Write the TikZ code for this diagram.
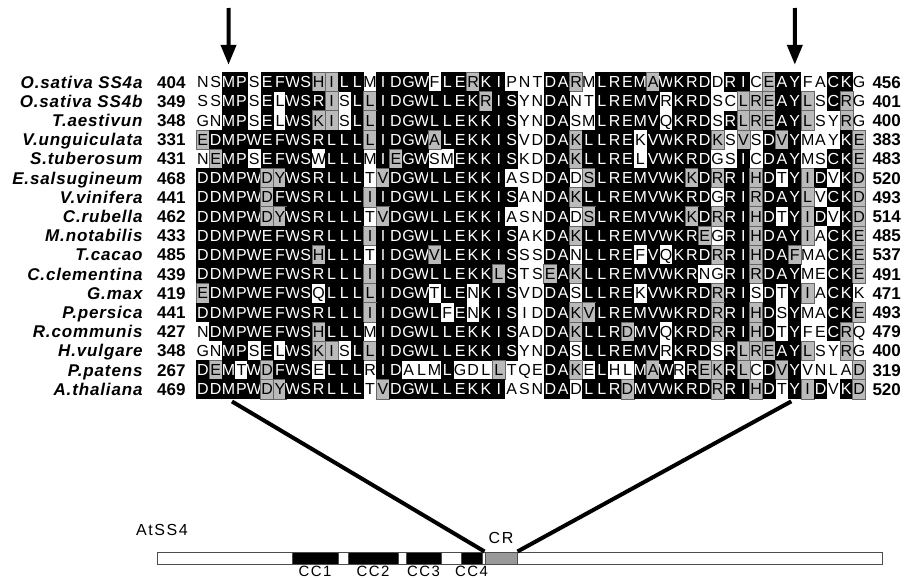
\documentclass[tikz,border=0pt]{standalone}
\usepackage{fontspec}
\setmainfont{Liberation Sans}
\usetikzlibrary{arrows.meta,positioning}

\newfontfamily\lblfont[LetterSpace=5]{Liberation Sans}
\newfontfamily\tagfont[LetterSpace=10]{Liberation Sans}
\newcommand{\seqfont}{\fontsize{12}{12}\selectfont}

% one alignment row: row number, residues, shades (k black, g grey, w white)
\newcommand{\alnrow}[3]{%
  \def\alnr{#1}\def\alnc{0}%
  \alncell#2\relax#3\relax}
\def\alncell#1#2\relax#3#4\relax{%
  \pgfmathtruncatemacro{\alnc}{\alnc+1}%
  \node [res#3] (c-\alnr-\alnc) at ({202.8+(\alnc-1)*12.87},{82+(\alnr-1)*19.2}) {#1};%
  \ifx\relax#2\relax\else\alncell#2\relax#4\relax\fi}

\tikzset{every picture/.style={line width=0.75pt}}
\tikzset{
  res/.style={inner sep=0pt, minimum width=9.8pt, minimum height=14.6pt, text height=8.6pt, text depth=0pt, font=\seqfont},
  resk/.style={res, fill=black, text=white},
  resg/.style={res, fill=black!27, draw=black!60, line width=0.4pt, text=black},
  resw/.style={res, text=black},
  spname/.style={inner sep=0pt, font=\lblfont\bfseries\itshape\fontsize{12.75}{14}\selectfont},
  spnum/.style={inner sep=0pt, font=\bfseries\fontsize{12.75}{14}\selectfont},
  selarrow/.style={line width=3pt, -{Triangle[width=11.25pt,length=15pt]}, shorten >=5.25pt},
  zoomline/.style={line width=3pt, shorten <=3pt},
  barbox/.style={draw=black!70, line width=0.75pt, inner sep=0pt, minimum height=9pt},
  tag/.style={inner sep=0pt, font=\tagfont\fontsize{12}{13}\selectfont},
  cctag/.style={inner sep=0pt, text height=7.9pt, text depth=0pt, font=\tagfont\fontsize{11.2}{12}\selectfont}
}

\begin{document}
\begin{tikzpicture}[x=0.75pt,y=0.75pt,yscale=-1,xscale=1]
\useasboundingbox (0,0) rectangle (908,578);
\clip (0,0) rectangle (908,578);

% Alignment
\alnrow{1}{NSMPSEFWSHILLMIDGWFLERKIPNTDARMLREMAWKRDDRICEAYFACKG}{wwkkwkkkkggkkwkkkkwkkgkkwwwkkgwkkkkgkkkkwkkwgkkwwkkw}
\alnrow{2}{SSMPSELWSRISLLIDGWLLEKRISYNDANTLREMVRKRDSCLREAYLSCRG}{wwkkwkwkkkgwkgkkkkkkkkgkkwwkkwwkkkkkwkkkwwgggkkgwkgw}
\alnrow{3}{GNMPSELWSKISLLIDGWLLEKKISYNDASMLREMVQKRDSRLREAYLSYRG}{wwkkwkwkkggwkgkkkkkkkkkkkwwkkwwkkkkkwkkkwkgggkkgwwgw}
\alnrow{4}{EDMPWEFWSRLLLLIDGWALEKKISVDDAKLLREKVWKRDKSVSDVYMAYKE}{gkkkkkkkkkkkkgkkkkgkkkkkkwwkkgkkkkwkkkkkgwgwkgkwwwkg}
\alnrow{5}{NEMPSEFWSWLLLMIEGWSMEKKISKDDAKLLRELVWKRDGSICDAYMSCKE}{wgkkwkkkkwkkkwkgkkwwkkkkkwwkkgkkkkwkkkkkwwkwkkkwwkkg}
\alnrow{6}{DDMPWDYWSRLLLTVDGWLLEKKIASDDADSLREMVWKKDRRIHDTYIDVKD}{kkkkkggkkkkkkwgkkkkkkkkkwwwkkwgkkkkkkkgkgkkgkwkgkwkg}
\alnrow{7}{DDMPWDFWSRLLLIIDGWLLEKKISANDAKLLREMVWKRDGRIRDAYLVCKD}{kkkkkgkkkkkkkgkkkkkkkkkkkwwkkgkkkkkkkkkkwkkgkkkgwkkg}
\alnrow{8}{DDMPWDYWSRLLLTVDGWLLEKKIASNDADSLREMVWKKDRRIHDTYIDVKD}{kkkkkggkkkkkkwgkkkkkkkkkwwwkkwgkkkkkkkgkgkkgkwkgkwkg}
\alnrow{9}{DDMPWEFWSRLLLIIDGWLLEKKISAKDAKLLREMVWKREGRIHDAYIACKE}{kkkkkkkkkkkkkgkkkkkkkkkkkwwkkgkkkkkkkkkgwkkgkkkgwkkg}
\alnrow{10}{DDMPWEFWSHLLLTIDGWVLEKKISSSDANLLREFVQKRDRRIHDAFMACKE}{kkkkkkkkkgkkkwkkkkgkkkkkkwwkkwkkkkwkwkkkgkkgkkgwwkkg}
\alnrow{11}{DDMPWEFWSRLLLIIDGWLLEKKLSTSEAKLLREMVWKRNGRIRDAYMECKE}{kkkkkkkkkkkkkgkkkkkkkkkgkwwgkgkkkkkkkkkwwkkgkkkwwkkg}
\alnrow{12}{EDMPWEFWSQLLLLIDGWTLENKISVDDASLLREKVWKRDRRISDTYIACKK}{gkkkkkkkkwkkkgkkkkwkkwkkkwwkkwkkkkwkkkkkgkkwkwkgwkkw}
\alnrow{13}{DDMPWEFWSRLLLIIDGWLFENKISIDDAKVLREMVWKRDRRIHDSYMACKE}{kkkkkkkkkkkkkgkkkkkwkwkkkwwkkggkkkkkkkkkgkkgkwkwwkkg}
\alnrow{14}{NDMPWEFWSHLLLMIDGWLLEKKISADDAKLLRDMVQKRDRRIHDTYFECRQ}{wkkkkkkkkgkkkwkkkkkkkkkkkwwkkgkkkgkkwkkkgkkgkwkwwkgw}
\alnrow{15}{GNMPSELWSKISLLIDGWLLEKKISYNDASLLREMVRKRDSRLREAYLSYRG}{wwkkwkwkkggwkgkkkkkkkkkkkwwkkwkkkkkkwkkkwkgggkkgwwgw}
\alnrow{16}{DEMTWDFWSELLLRIDALMLGDLLTQEDAKELHLMAWRREKRLCDVYVNLAD}{kgkwkgkkkwkkkwkkwwwkwwwgwwwkkgwkwwkgkwkggkgwkgkwwwwg}
\alnrow{17}{DDMPWDYWSRLLLTVDGWLLEKKIASNDADLLRDMVWKRDRRIHDTYIDVKD}{kkkkkggkkkkkkwgkkkkkkkkkwwwkkwkkkgkkkkkkgkkgkwkgkwkg}

% Species names and residue numbers
\foreach \nm/\st/\en [count=\r] in {O.sativa SS4a/404/456, O.sativa SS4b/349/401, T.aestivun/348/400, V.unguiculata/331/383, S.tuberosum/431/483, E.salsugineum/468/520, V.vinifera/441/493, C.rubella/462/514, M.notabilis/433/485, T.cacao/485/537, C.clementina/439/491, G.max/419/471, P.persica/441/493, R.communis/427/479, H.vulgare/348/400, P.patens/267/319, A.thaliana/469/520}{
  \node [spname, anchor=base east] (name-\r) at (143,{82+(\r-1)*19.2+6}) {\nm};
  \node [spnum, anchor=base east] (start-\r) at (186,{82+(\r-1)*19.2+6}) {\st};
  \node [spnum, anchor=base west] (end-\r) at (872,{82+(\r-1)*19.2+6}) {\en};
}

% Arrows over the two residues
\coordinate (topL) at (228.5,8);
\coordinate (topR) at (794.8,8);
\draw [selarrow] (topL) -- (c-1-3.north);
\draw [selarrow] (topR) -- (c-1-47.north);

%Shape: AtSS4 protein bar
\node [barbox, minimum width=543.75pt] (bar) at (519.5,558) {};
\node [barbox, fill=black, minimum width=34.5pt] (cc1) at (315,558) {};
\node [barbox, fill=black, minimum width=37.5pt] (cc2) at (373,558) {};
\node [barbox, fill=black, minimum width=26.25pt] (cc3) at (423.5,558) {};
\node [barbox, fill=black, minimum width=15.75pt] (cc4) at (471.5,558) {};
\node [barbox, fill=black!40, minimum width=24pt] (cr) at (501,558) {};

% Text Node
\node [tag] (atss4) at (162,530) {AtSS4};
\node [tag, above=5.5pt of cr] (cr-lbl) {CR};
\foreach \d in {1,...,4}{
  \node [cctag, below=0.6pt of cc\d] (cc\d-lbl) {CC\d};
}

% Lines to the CR region
\draw [zoomline] (c-17-3.south) -- (cr.north west);
\draw [zoomline] (c-17-47.south) -- (cr.north east);

\end{tikzpicture}
\end{document}
